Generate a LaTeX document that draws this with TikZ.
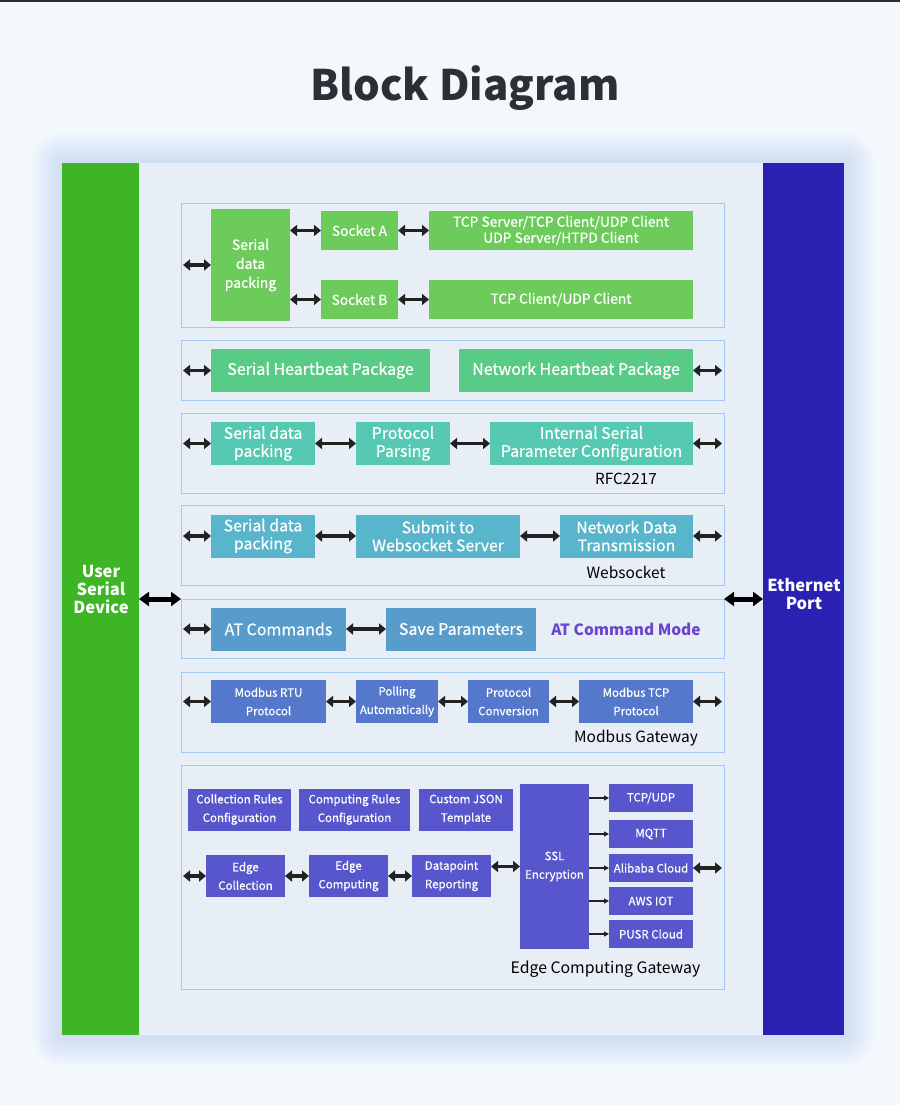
\documentclass[tikz,border=0pt]{standalone}
\usepackage{fontspec}
\setmainfont{Noto Sans CJK KR}
\newfontfamily\medfont[FakeBold=0.5]{Noto Sans CJK KR}
\usetikzlibrary{arrows.meta}

\definecolor{pagebg}{HTML}{F3F8FD}
\definecolor{panelbg}{HTML}{E8EEF5}
\definecolor{glowc}{HTML}{9FBCE8}
\definecolor{framec}{HTML}{A4C8F4}
\definecolor{arrowc}{HTML}{222222}
\definecolor{titlec}{HTML}{2B2F36}
\definecolor{usergreen}{HTML}{3DB524}
\definecolor{ethblue}{HTML}{2A21B3}
\definecolor{cola}{HTML}{6CCB5A}
\definecolor{colb}{HTML}{58CB86}
\definecolor{colc}{HTML}{55C9B2}
\definecolor{cold}{HTML}{58B5CB}
\definecolor{cole}{HTML}{589CCB}
\definecolor{colf}{HTML}{5577CC}
\definecolor{colg}{HTML}{5856CC}
\definecolor{atmode}{HTML}{6B44D2}

\begin{document}
\begin{tikzpicture}
  [x=1pt,y=-1pt,
   every node/.style={inner sep=0pt,outer sep=0pt},
   blk/.style={text=white,align=center,font=\medfont\fontsize{13.8}{16}\selectfont},
   small/.style={font=\medfont\fontsize{11.5}{18.5}\selectfont},
   mid/.style={font=\medfont\fontsize{15.8}{18}\selectfont},
   frame/.style={draw=framec,line width=1pt,minimum width=543pt},
   lbl/.style={text=black,font=\fontsize{15.5}{17}\selectfont},
   dar/.style={{Triangle[length=7pt,width=11pt]}-{Triangle[length=7pt,width=11pt]},line width=3.5pt,draw=arrowc},
   bigar/.style={{Triangle[length=10pt,width=14pt]}-{Triangle[length=10pt,width=14pt]},line width=5pt,draw=black},
   sar/.style={-{Triangle[length=5pt,width=5pt]},line width=1.3pt,draw=arrowc}]

  \useasboundingbox (0,0) rectangle (900,1105);
  \fill[pagebg] (0,0) rectangle (900,1105);
  \fill[titlec] (0,0) rectangle (900,2);

  % glow around the panel
  \foreach \r in {30,27,...,3}
    \fill[glowc,opacity=.045,rounded corners=\r pt] (62-\r,163-\r) rectangle (844+\r,1035+\r);
  \fill[panelbg] (62,163) rectangle (844,1035);

  \node[titlec,anchor=base,font=\fontsize{42}{48}\selectfont\bfseries] (title) at (465,101) {Block Diagram};

  % side bars
  \node[fill=usergreen,minimum width=77pt,minimum height=872pt] (usr) at (100.5,599) {};
  \node[fill=ethblue,minimum width=81pt,minimum height=872pt] (eth) at (803.5,599) {};
  \node[text=white,align=center,font=\fontsize{16.5}{18}\selectfont\bfseries] (usrl) at (101,589) {User\\Serial\\Device};
  \node[text=white,align=center,font=\fontsize{16.5}{18}\selectfont\bfseries] (ethl) at (804,594) {Ethernet\\Port};

  % section frames
  \node[frame,minimum height=124pt] (s1) at (452.5,265) {};
  \node[frame,minimum height=60pt] (s2) at (452.5,370) {};
  \node[frame,minimum height=80pt] (s3) at (452.5,453) {};
  \node[frame,minimum height=80pt] (s4) at (452.5,545) {};
  \node[frame,minimum height=59pt] (s5) at (452.5,628.5) {};
  \node[frame,minimum height=80pt] (s6) at (452.5,712) {};
  \node[frame,minimum height=224pt] (s7) at (452.5,877) {};

  % socket
  \node[blk,fill=cola,minimum width=79pt,minimum height=112pt,font=\medfont\fontsize{14}{19}\selectfont] (sdpa) at (250.5,265) {Serial\\data\\packing};
  \node[blk,fill=cola,minimum width=77pt,minimum height=39pt] (sa) at (359.5,230.5) {Socket A};
  \node[blk,fill=cola,minimum width=77pt,minimum height=39pt] (sb) at (359.5,299.5) {Socket B};
  \node[blk,fill=cola,minimum width=264pt,minimum height=39pt] (ta) at (561,230.5) {TCP Server/TCP Client/UDP Client\\UDP Server/HTPD Client};
  \node[blk,fill=cola,minimum width=264pt,minimum height=39pt] (tb) at (561,299.5) {TCP Client/UDP Client};

  % heartbeat
  \node[blk,fill=colb,minimum width=219pt,minimum height=43pt,font=\medfont\fontsize{16}{19}\selectfont] (shp) at (320.5,370.5) {Serial Heartbeat Package};
  \node[blk,fill=colb,minimum width=234pt,minimum height=43pt,font=\medfont\fontsize{16}{19}\selectfont] (nhp) at (576,370.5) {Network Heartbeat Package};

  % rfc2217
  \node[blk,fill=colc,mid,minimum width=104pt,minimum height=43pt] (sdpc) at (263,443.5) {Serial data\\packing};
  \node[blk,fill=colc,mid,minimum width=94pt,minimum height=43pt] (pp) at (403,443.5) {Protocol\\Parsing};
  \node[blk,fill=colc,mid,minimum width=203pt,minimum height=43pt] (ispc) at (591.5,443.5) {Internal Serial\\Parameter Configuration};
  \node[lbl,font=\fontsize{15.3}{17}\selectfont] (rfc) at (626,479) {RFC2217};

  % websocket
  \node[blk,fill=cold,mid,minimum width=104pt,minimum height=43pt] (sdpd) at (263,536) {Serial data\\packing};
  \node[blk,fill=cold,mid,minimum width=164pt,minimum height=43pt] (sws) at (438,536) {Submit to\\Websocket Server};
  \node[blk,fill=cold,mid,minimum width=133pt,minimum height=43pt] (ndt) at (626.5,536) {Network Data\\Transmission};
  \node[lbl] (wsl) at (626,572) {Websocket};

  % at commands
  \node[blk,fill=cole,minimum width=135pt,minimum height=43pt,font=\medfont\fontsize{16}{19}\selectfont] (atc) at (278.5,629) {AT Commands};
  \node[blk,fill=cole,minimum width=150pt,minimum height=43pt,font=\medfont\fontsize{16}{19}\selectfont] (svp) at (461,629) {Save Parameters};
  \node[text=atmode,font=\fontsize{15.5}{18}\selectfont\bfseries] (atl) at (626,629) {AT Command Mode};

  % modbus
  \node[blk,fill=colf,small,minimum width=115pt,minimum height=43pt] (mrtu) at (268.5,701.5) {Modbus RTU\\Protocol};
  \node[blk,fill=colf,small,minimum width=82pt,minimum height=43pt] (pol) at (397,701.5) {Polling\\Automatically};
  \node[blk,fill=colf,small,minimum width=81pt,minimum height=43pt] (pcv) at (508.5,701.5) {Protocol\\Conversion};
  \node[blk,fill=colf,small,minimum width=114pt,minimum height=43pt] (mtcp) at (636,701.5) {Modbus TCP\\Protocol};
  \node[lbl] (mgl) at (636,738) {Modbus Gateway};

  % edge computing
  \node[blk,fill=colg,small,minimum width=103pt,minimum height=42pt] (crc) at (239.5,809.5) {Collection Rules\\Configuration};
  \node[blk,fill=colg,small,minimum width=111pt,minimum height=42pt] (cpr) at (354.5,809.5) {Computing Rules\\Configuration};
  \node[blk,fill=colg,small,minimum width=94pt,minimum height=42pt] (cjt) at (466,809.5) {Custom JSON\\Template};
  \node[blk,fill=colg,small,minimum width=79pt,minimum height=42pt] (ecl) at (245.5,876) {Edge\\Collection};
  \node[blk,fill=colg,small,minimum width=79pt,minimum height=42pt] (ecp) at (348.5,876) {Edge\\Computing};
  \node[blk,fill=colg,small,minimum width=79pt,minimum height=42pt] (dpr) at (451.5,876) {Datapoint\\Reporting};
  \node[blk,fill=colg,small,minimum width=69pt,minimum height=165pt] (ssl) at (554.5,866.5) {SSL\\Encryption};
  \node[blk,fill=colg,small,minimum width=84pt,minimum height=28pt] (tcu) at (651,798) {TCP/UDP};
  \node[blk,fill=colg,small,minimum width=84pt,minimum height=28pt] (mqt) at (651,834) {MQTT};
  \node[blk,fill=colg,small,minimum width=84pt,minimum height=28pt] (ali) at (651,868) {Alibaba Cloud};
  \node[blk,fill=colg,small,minimum width=84pt,minimum height=28pt] (aws) at (651,901) {AWS IOT};
  \node[blk,fill=colg,small,minimum width=84pt,minimum height=28pt] (pus) at (651,934) {PUSR Cloud};
  \node[lbl,font=\fontsize{15.8}{17}\selectfont] (ecg) at (605.5,969) {Edge Computing Gateway};

  % connectors
  \foreach \a/\b in {sdpa/sa,sdpa/sb,sa/ta,sb/tb,sdpc/pp,pp/ispc,sdpd/sws,sws/ndt,
                     atc/svp,mrtu/pol,pol/pcv,pcv/mtcp,ecl/ecp,ecp/dpr,dpr/ssl}
    \draw[dar] (\a.east |- \b.west) -- (\b.west);
  \foreach \f/\b in {s1/sdpa,s2/shp,s3/sdpc,s4/sdpd,s5/atc,s6/mrtu,s7/ecl}
    \draw[dar,shorten <=2pt] (\f.west |- \b.west) -- (\b.west);
  \foreach \b/\f in {nhp/s2,ispc/s3,ndt/s4,mtcp/s6,ali/s7}
    \draw[dar,shorten >=2pt] (\b.east) -- (\f.east |- \b.east);
  \foreach \c in {tcu,mqt,ali,aws,pus}
    \draw[sar] (ssl.east |- \c.west) -- (\c.west);
  \draw[bigar] (usr.east |- s5.north) -- (s5.north west);
  \draw[bigar] (s5.north east) -- (eth.west |- s5.north);

\end{tikzpicture}
\end{document}
